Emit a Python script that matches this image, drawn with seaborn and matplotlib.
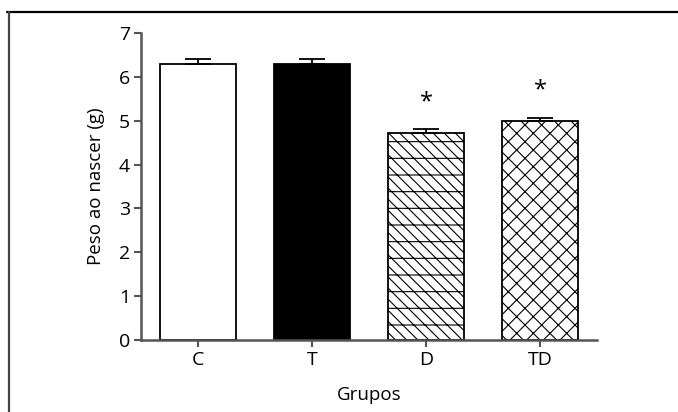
import matplotlib
matplotlib.use("Agg")
import matplotlib.pyplot as plt
import seaborn as sns
import pandas as pd
from matplotlib.lines import Line2D

groups = ["C", "T", "D", "TD"]
values = [6.30, 6.30, 4.71, 5.00]
errors = [0.11, 0.11, 0.09, 0.07]
significant = [False, False, True, True]
fill_colors = ["white", "black", "white", "white"]
hatches = ["", "", "\\\\\\-", "xx"]

sns.set_theme(style="ticks")
plt.rcParams["font.family"] = ["Open Sans", "DejaVu Sans"]
plt.rcParams["hatch.linewidth"] = 0.8
plt.rcParams["hatch.color"] = "black"
plt.rcParams["text.color"] = "black"
plt.rcParams["axes.labelcolor"] = "black"

df = pd.DataFrame({"Grupos": groups, "Peso": values})

fig = plt.figure(figsize=(6.78, 4.12), dpi=100)
ax = fig.add_axes([0.208, 0.1748, 0.6725, 0.7451])

sns.barplot(data=df, x="Grupos", y="Peso", hue="Grupos", palette=fill_colors,
            edgecolor="black", linewidth=1.3, width=0.67, errorbar=None,
            legend=False, ax=ax)

for patch, h in zip(ax.patches, hatches):
    patch.set_hatch(h)

xs = list(range(len(groups)))
ax.errorbar(xs, values, yerr=[[0] * len(errors), errors], fmt="none",
            ecolor="black", elinewidth=1.3, capsize=9.5, capthick=1.3, zorder=5)

for x, v, e, s in zip(xs, values, errors, significant):
    if s:
        ax.text(x, v + e + 0.62, "*", ha="center", va="center", fontsize=17,
                color="black")

ax.set_xlim(-0.5, 3.5)
ax.set_ylim(0, 7)
ax.set_yticks(range(0, 8))
ax.set_xlabel("Grupos", fontsize=13.5, labelpad=12)
ax.set_ylabel("Peso ao nascer (g)", fontsize=13.5, labelpad=10)
ax.tick_params(axis="both", labelsize=14, colors="#555555", labelcolor="black",
               width=1.5, length=5, pad=3)
for side in ["top", "right"]:
    ax.spines[side].set_visible(False)
for side in ["left", "bottom"]:
    ax.spines[side].set_color("#555555")
    ax.spines[side].set_linewidth(1.8)

fig.add_artist(Line2D([7 / 678, 1.0], [1 - 12 / 412, 1 - 12 / 412],
                      transform=fig.transFigure, color="black", linewidth=1.6))
fig.add_artist(Line2D([9 / 678, 9 / 678], [0.0, 1 - 12 / 412],
                      transform=fig.transFigure, color="#444444", linewidth=1.6))

fig.savefig("out.png", dpi=100)
